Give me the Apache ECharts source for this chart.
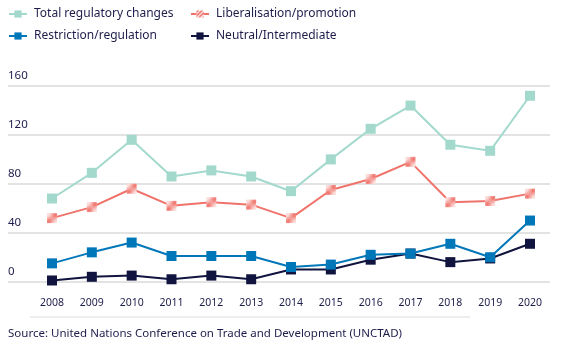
<!DOCTYPE html>
<html>
<head>
<meta charset="utf-8">
<script src="https://cdn.jsdelivr.net/npm/echarts@6/dist/echarts.min.js"></script>
<style>html,body{margin:0;padding:0;background:#fff}#c{width:572px;height:361px}</style>
</head>
<body>
<div id="c"></div>
<script>
const years = ['2008','2009','2010','2011','2012','2013','2014','2015','2016','2017','2018','2019','2020'];
const totalChanges = [68, 89, 116, 86, 91, 86, 74, 100, 125, 144, 112, 107, 152];
const liberalisation = [52, 61, 76, 62, 65, 63, 52, 75, 84, 98, 65, 66, 72];
const restriction = [15, 24, 32, 21, 21, 21, 12, 14, 22, 23, 31, 20, 50];
const neutral = [1, 4, 5, 2, 5, 2, 10, 10, 18, 23, 16, 19, 31];
const yTicks = [0, 40, 80, 120, 160];
const names = ['Total regulatory changes', 'Liberalisation/promotion', 'Restriction/regulation', 'Neutral/Intermediate'];
const sourceText = 'Source: United Nations Conference on Trade and Development (UNCTAD)';

const C_TOTAL = '#a3d9cd', C_LIB = '#f0736b', C_RES = '#0077b8', C_NEU = '#10143f';
const TXT = '#1d1d4b';
const FONT = 'Noto Sans';

// hatched pattern
const P = 8;
const pc = document.createElement('canvas');
pc.width = P; pc.height = P;
const px = pc.getContext('2d');
px.fillStyle = '#ffffff'; px.fillRect(0,0,P,P);
px.strokeStyle = C_LIB; px.lineWidth = 1.7;
px.beginPath();
for (let k = -P; k <= 2*P; k += 4) { px.moveTo(k, P); px.lineTo(k + P, 0); }
px.stroke();
const hatch = { image: pc, repeat: 'repeat' };

const TOP = 86, BOTTOM = 361 - 281.7;
const chart = echarts.init(document.getElementById('c'), null, {renderer: 'canvas'});

function mkLegend(name, left, top) {
  return {
    data: [name], left: left, top: top, orient: 'horizontal',
    itemWidth: 18, itemHeight: 9, itemGap: 0, padding: 0,
    textStyle: {color: TXT, fontSize: 12, fontFamily: FONT, padding: [0,0,0,2]},
    selectedMode: false
  };
}

const mkSeries = (name, data, color, z, itemColor) => ({
  name: name, type: 'line', data: data, xAxisIndex: 0, yAxisIndex: 0,
  symbol: 'rect', symbolSize: 10, z: z, animation: false,
  lineStyle: {color: color, width: 2},
  itemStyle: {color: itemColor || color, borderWidth: 0},
  emphasis: {disabled: true}
});

chart.setOption({
  animation: false,
  backgroundColor: '#fff',
  legend: [
    mkLegend(names[0], 8, 8),
    mkLegend(names[1], 190, 8),
    mkLegend(names[2], 8, 30),
    mkLegend(names[3], 190, 30)
  ],
  grid: [
    {left: 52, right: 42, top: TOP, bottom: BOTTOM},
    {left: 8, right: 22, top: TOP, bottom: BOTTOM}
  ],
  xAxis: [
    {type: 'category', data: years, gridIndex: 0, boundaryGap: false,
     axisLine: {show: false}, axisTick: {show: false}, splitLine: {show: false},
     axisLabel: {color: TXT, fontSize: 10.5, fontFamily: FONT, margin: 16}},
    {type: 'category', data: years, gridIndex: 1, show: false}
  ],
  yAxis: [
    {type: 'value', gridIndex: 0, min: 0, max: 160, interval: 40, show: false},
    {type: 'value', gridIndex: 1, min: yTicks[0], max: yTicks[yTicks.length-1], interval: 40,
     axisLine: {show: false}, axisTick: {show: false},
     splitLine: {show: true, lineStyle: {color: '#e3e3e3', width: 2}},
     axisLabel: {inside: true, margin: 0, verticalAlign: 'bottom', align: 'left',
       padding: [0,0,4,0], color: TXT, fontSize: 11.5, fontFamily: FONT}}
  ],
  graphic: [
    {type: 'line', shape: {x1: 30, y1: 317, x2: 470, y2: 317}, style: {stroke: '#e8e8e8', lineWidth: 1.5}},
    {type: 'text', left: 8, top: 328, style: {text: sourceText, fill: TXT, fontSize: 11.5, fontFamily: FONT}}
  ],
  series: [
    mkSeries(names[0], totalChanges, C_TOTAL, 2),
    mkSeries(names[1], liberalisation, C_LIB, 3, hatch),
    mkSeries(names[3], neutral, C_NEU, 4),
    mkSeries(names[2], restriction, C_RES, 5)
  ]
});
</script>
</body>
</html>
